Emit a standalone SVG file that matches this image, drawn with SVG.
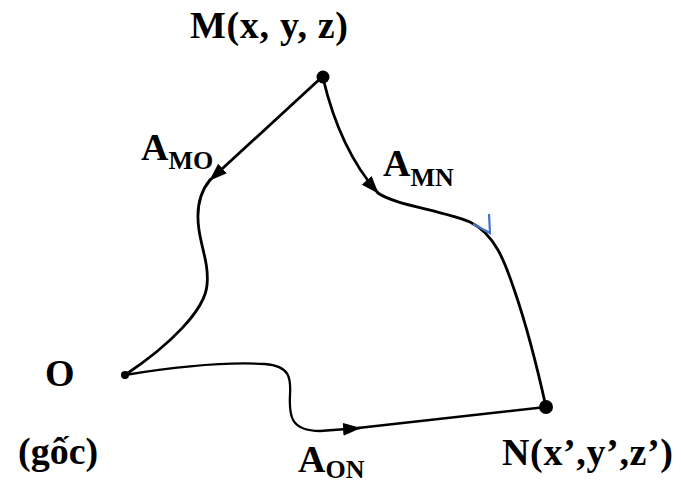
<svg xmlns="http://www.w3.org/2000/svg" width="681" height="484" viewBox="0 0 681 484">
<style>
text{font-family:"Liberation Serif","Times New Roman",serif;font-weight:bold;fill:#000}
.lbl{font-size:38px}
.sub{font-size:26px}
.curve{fill:none;stroke:#000;stroke-width:2.8;stroke-linecap:round;stroke-linejoin:round}
.thin{stroke-width:2.3}
.dot{fill:#000}
</style>
<defs>
<marker id="arr" markerUnits="userSpaceOnUse" viewBox="0 0 18 13" markerWidth="18" markerHeight="13" refX="17" refY="6.5" orient="auto">
<path d="M0,0 L18,6.5 L0,13 z" fill="#000"/>
</marker>
</defs>
<rect width="681" height="484" fill="#fff"/>
<g id="connectors">
<path class="curve" d="M322 77 Q270 125 210 180" marker-end="url(#arr)"/>
<path class="curve" d="M210 180 C200 192 196 210 199 230 C202 250 209 265 207 285 C205 310 170 345 125 375"/>
<path class="curve" d="M323 78 Q340 150 378 193" marker-end="url(#arr)"/>
<path class="curve" d="M378 193 C395 205 440 210 470 222 C495 234 505 262 515 292 C528 330 540 380 546 407"/>
<path class="curve thin" d="M125 375 C180 366 230 362 265 364 C290 366 291 378 290 395 C289 415 290 431 320 431 L360 428" marker-end="url(#arr)"/>
<path class="curve thin" d="M358 428 L546 407"/>
<polyline points="473,224 490,233 489,214" fill="none" stroke="#4472C4" stroke-width="2.2"/>
</g>
<g id="node-M">
<circle class="dot" cx="323" cy="77" r="6.5"/>
<text class="lbl" x="190" y="38" textLength="158" lengthAdjust="spacing">M(x, y, z)</text>
</g>
<g id="node-N">
<circle class="dot" cx="546" cy="407" r="7"/>
<text class="lbl" x="502" y="465" textLength="171" lengthAdjust="spacing">N(x’,y’,z’)</text>
</g>
<g id="node-O">
<circle class="dot" cx="125" cy="375" r="4"/>
<text class="lbl" x="45" y="386">O</text>
<text class="lbl" x="18" y="464">(gốc)</text>
</g>
<g id="label-AMO">
<text class="lbl" x="141" y="160">A<tspan class="sub" dy="9">MO</tspan></text>
</g>
<g id="label-AMN">
<text class="lbl" x="383" y="176">A<tspan class="sub" dy="10">MN</tspan></text>
</g>
<g id="label-AON">
<text class="lbl" x="298" y="472">A<tspan class="sub" dy="6">ON</tspan></text>
</g>
</svg>
